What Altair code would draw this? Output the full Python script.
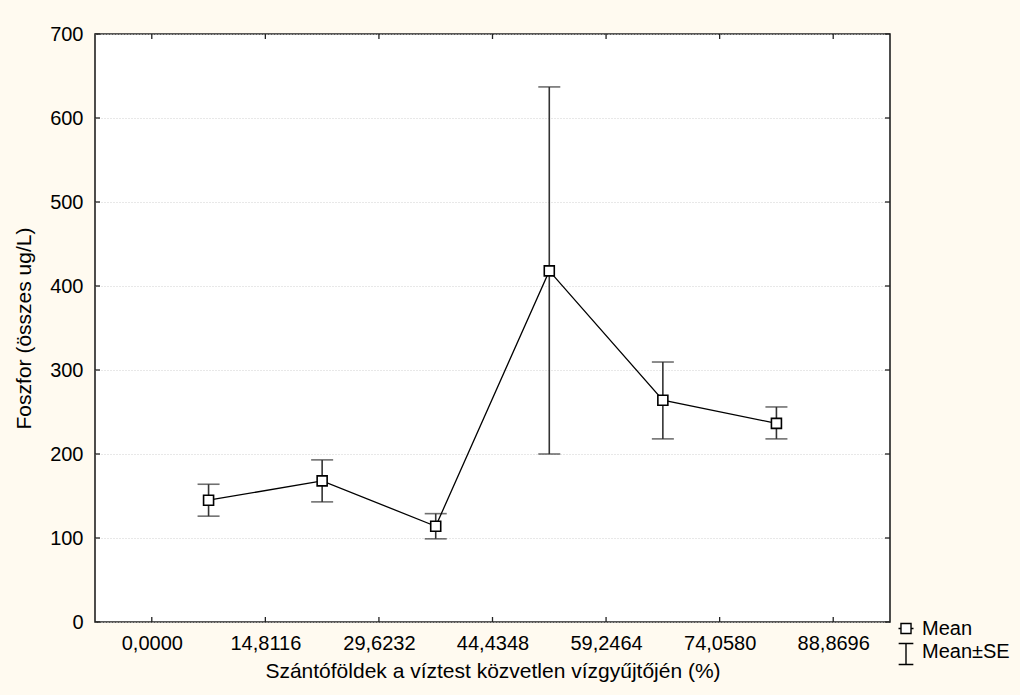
import altair as alt
import pandas as pd

# Bin midpoints of the arable-land share (%), bin width 14.8116
x_mid = [7.4058, 22.2174, 37.0290, 51.8406, 66.6522, 81.4638]
mean_p = [145, 168, 114, 418, 264, 236.5]
se_low = [126, 143, 99, 200, 218, 218]
se_high = [164, 193, 129, 637, 309.5, 256]

x_ticks = [0.0, 14.8116, 29.6232, 44.4348, 59.2464, 74.0580, 88.8696]
y_ticks = [0, 100, 200, 300, 400, 500, 600, 700]
legend_labels = ["Mean", "Mean±SE"]

FONT = "Liberation Sans"
FS = 20
FS_TITLE = 21
W, H = 795, 588
X_TITLE = "Szántóföldek a víztest közvetlen vízgyűjtőjén (%)"
Y_TITLE = "Foszfor (összes ug/L)"

df = pd.DataFrame({"x": x_mid, "mean": mean_p, "lo": se_low, "hi": se_high})
xt = pd.DataFrame({"x": x_ticks})
yt = pd.DataFrame({"y": y_ticks})

x_scale = alt.Scale(domain=[-7.4058, 96.2754], nice=False, zero=False)
y_scale = alt.Scale(domain=[0, 700], nice=False, zero=False)

x_axis = alt.Axis(
    values=x_ticks,
    labelExpr="replace(format(datum.value, '.4f'), '.', ',')",
    ticks=False, domain=False, grid=False,
    labelFont=FONT, labelFontSize=FS, labelColor="black", labelPadding=11,
    titleFont=FONT, titleFontSize=FS_TITLE, titleFontWeight="normal", titleColor="black",
    titleX=W / 2, titleY=49, titleBaseline="middle", titleAlign="center",
)
y_axis = alt.Axis(
    values=y_ticks, format="d",
    ticks=False, domain=False,
    grid=True, gridColor="#d0d0d0", gridDash=[1, 2], gridWidth=1,
    labelFont=FONT, labelFontSize=FS, labelColor="black", labelPadding=12,
    titleFont=FONT, titleFontSize=FS_TITLE, titleFontWeight="normal", titleColor="black",
    titleX=-71, titleY=H / 2, titleAngle=270, titleBaseline="middle", titleAlign="center",
)


def X(field):
    return alt.X(f"{field}:Q", scale=x_scale, axis=x_axis, title=X_TITLE)


def Y(field):
    return alt.Y(f"{field}:Q", scale=y_scale, axis=y_axis, title=Y_TITLE)


base = alt.Chart(df)
ERR = "#333333"

# Standard-error whiskers with caps
whisker = base.mark_rule(color=ERR, strokeWidth=1.6).encode(x=X("x"), y=Y("lo"), y2="hi:Q")
cap_lo = base.mark_tick(color=ERR, orient="horizontal", size=22, thickness=1.6).encode(x=X("x"), y=Y("lo"))
cap_hi = base.mark_tick(color=ERR, orient="horizontal", size=22, thickness=1.6).encode(x=X("x"), y=Y("hi"))

# Means joined by a line, drawn as open squares
line = base.mark_line(color="black", strokeWidth=1.3).encode(x=X("x"), y=Y("mean"))
points = base.mark_point(
    shape="square", size=100, filled=True, fill="white",
    stroke="black", strokeWidth=1.6, opacity=1,
).encode(x=X("x"), y=Y("mean"))

# Inward tick marks on all four sides of the frame
TICK = "#222222"
left_ticks = alt.Chart(yt).mark_rule(color=TICK, strokeWidth=1.3).encode(
    y=Y("y"), x=alt.value(0), x2=alt.value(5))
right_ticks = alt.Chart(yt).mark_rule(color=TICK, strokeWidth=1.3).encode(
    y=Y("y"), x=alt.value(W), x2=alt.value(W - 5))
bottom_ticks = alt.Chart(xt).mark_rule(color=TICK, strokeWidth=1.3).encode(
    x=X("x"), y=alt.value(H), y2=alt.value(H - 5))
top_ticks = alt.Chart(xt).mark_rule(color=TICK, strokeWidth=1.3).encode(
    x=X("x"), y=alt.value(0), y2=alt.value(5))

# Legend beside the lower right corner
mean_sym = "M-1,0H-0.67M0.67,0H1M-0.67,-0.67H0.67V0.67H-0.67Z"
se_sym = "M-0.7,-1L0.7,-1M0,-1L0,1M-0.7,1L0.7,1"
leg1 = pd.DataFrame({"label": [legend_labels[0]]})
leg2 = pd.DataFrame({"label": [legend_labels[1]]})
leg_sym1 = alt.Chart(leg1).mark_point(
    shape=mean_sym, size=225, filled=True, fill="white", stroke="black",
    strokeWidth=1.4, opacity=1,
).encode(x=alt.value(811), y=alt.value(594.5))
leg_sym2 = alt.Chart(leg2).mark_point(
    shape=se_sym, size=441, filled=False, stroke="black", strokeWidth=1.4, opacity=1,
).encode(x=alt.value(811), y=alt.value(620))
leg_txt1 = alt.Chart(leg1).mark_text(
    align="left", baseline="middle", font=FONT, fontSize=FS, color="black",
).encode(x=alt.value(827), y=alt.value(595), text="label:N")
leg_txt2 = alt.Chart(leg2).mark_text(
    align="left", baseline="middle", font=FONT, fontSize=FS, color="black",
).encode(x=alt.value(827), y=alt.value(618), text="label:N")

chart = alt.layer(
    whisker, cap_lo, cap_hi, line, points,
    left_ticks, right_ticks, bottom_ticks, top_ticks,
    leg_sym1, leg_sym2, leg_txt1, leg_txt2,
).properties(
    width=W, height=H,
    autosize=alt.AutoSizeParams(type="none"),
    padding={"left": 95, "top": 34, "right": 1020 - 95 - W, "bottom": 695 - 34 - H},
    background="#FFFAF0",
).configure_view(
    fill="white", stroke="#222222", strokeWidth=1.6,
)

chart.save("out.html", embed_options={"renderer": "svg", "actions": False})
